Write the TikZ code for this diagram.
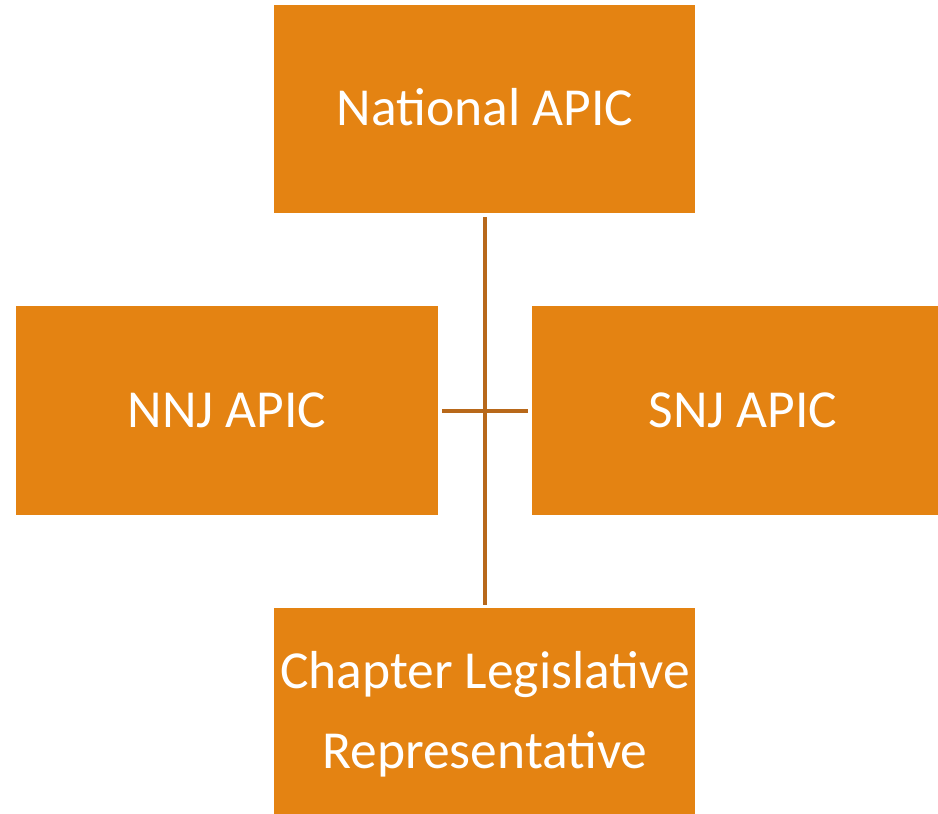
\documentclass[tikz,border=0pt]{standalone}
\usepackage{fontspec}
\setmainfont{Carlito}
\definecolor{boxorange}{HTML}{E48312}
\definecolor{lineorange}{HTML}{B8681A}
\begin{document}
\begin{tikzpicture}[x=1pt,y=-1pt,
  orgbox/.style={fill=boxorange,draw=none,text=white,font=\fontsize{53.5}{80}\selectfont,align=center,inner sep=0pt},
  conn/.style={draw=lineorange,line width=3.5pt}]
\useasboundingbox (0,0) rectangle (938,814);
\fill[boxorange] (274,5) rectangle (695,213);
\node[text=white,font=\fontsize{53.5}{80}\selectfont,inner sep=0pt] (nat) at (485,107) {National APIC};
\node[orgbox,minimum width=422pt,minimum height=209pt] (nnj) at (227,410.5) {NNJ APIC};
\fill[boxorange] (532,306) rectangle (938,515);
\node[text=white,font=\fontsize{53.5}{80}\selectfont,inner sep=0pt] (snj) at (743,410.5) {SNJ APIC};
\fill[boxorange] (274,608) rectangle (695,814);
\node[text=white,font=\fontsize{53.5}{80}\selectfont,align=center,inner sep=0pt] (ch) at (485,714) {Chapter Legislative\\Representative};
\coordinate (top) at (485,217);
\coordinate (bot) at (485,605);
\coordinate (l) at (442,411);
\coordinate (r) at (528,411);
\draw[conn] (top) -- (bot);
\draw[conn] (l) -- (r);
\end{tikzpicture}
\end{document}
